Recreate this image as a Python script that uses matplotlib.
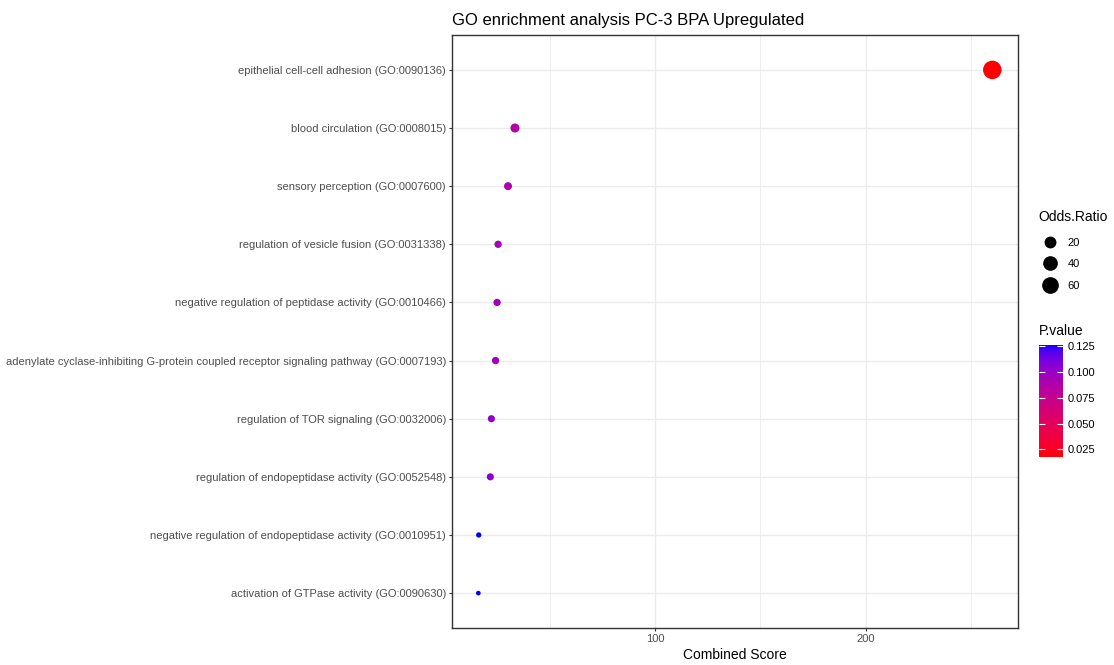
import numpy as np
import matplotlib
matplotlib.use("Agg")
import matplotlib.pyplot as plt
from matplotlib.colors import ListedColormap, Normalize
from matplotlib.cm import ScalarMappable
from matplotlib.lines import Line2D
from matplotlib.ticker import FixedLocator

plt.rcParams['font.family'] = ['Liberation Sans', 'DejaVu Sans']

# datos (de arriba hacia abajo)
terminos = [
    "epithelial cell-cell adhesion (GO:0090136)",
    "blood circulation (GO:0008015)",
    "sensory perception (GO:0007600)",
    "regulation of vesicle fusion (GO:0031338)",
    "negative regulation of peptidase activity (GO:0010466)",
    "adenylate cyclase-inhibiting G-protein coupled receptor signaling pathway (GO:0007193)",
    "regulation of TOR signaling (GO:0032006)",
    "regulation of endopeptidase activity (GO:0052548)",
    "negative regulation of endopeptidase activity (GO:0010951)",
    "activation of GTPase activity (GO:0090630)",
]
combined_score = [260.2, 33.5, 30.2, 25.5, 25.0, 24.3, 22.3, 21.8, 16.3, 16.1]
odds_ratio = [100, 12.5, 8.5, 6.5, 6.5, 6.5, 6.0, 6.0, 3.2, 3.0]
p_value = [0.0177, 0.085, 0.088, 0.095, 0.096, 0.097, 0.103, 0.104, 0.1262, 0.1264]

size_breaks = [20, 40, 60]
p_ticks = [0.025, 0.050, 0.075, 0.100, 0.125]
x_major = [100, 200]
x_minor = [50, 150, 250]

# --- degradado rojo -> azul interpolado en Lab (como ggplot) ---
M = np.array([[0.4124, 0.3576, 0.1805],
              [0.2126, 0.7152, 0.0722],
              [0.0193, 0.1192, 0.9505]])
BLANCO = np.array([0.95047, 1.0, 1.08883])
D = 6 / 29


def rgb_a_lab(c):
    c = np.asarray(c, float)
    lin = np.where(c <= 0.04045, c / 12.92, ((c + 0.055) / 1.055) ** 2.4)
    xyz = M @ lin / BLANCO
    f = np.where(xyz > D ** 3, np.cbrt(xyz), xyz / (3 * D ** 2) + 4 / 29)
    return np.array([116 * f[1] - 16, 500 * (f[0] - f[1]), 200 * (f[1] - f[2])])


def lab_a_rgb(lab):
    L, a, b = lab
    fy = (L + 16) / 116
    f = np.array([fy + a / 500, fy, fy - b / 200])
    xyz = np.where(f > D, f ** 3, 3 * D ** 2 * (f - 4 / 29)) * BLANCO
    lin = np.clip(np.linalg.solve(M, xyz), 0, 1)
    c = np.where(lin <= 0.0031308, 12.92 * lin, 1.055 * lin ** (1 / 2.4) - 0.055)
    return np.clip(c, 0, 1)


lab_rojo = rgb_a_lab([1, 0, 0])
lab_azul = rgb_a_lab([0, 0, 1])
colores = [lab_a_rgb(lab_rojo + t * (lab_azul - lab_rojo)) for t in np.linspace(0, 1, 256)]
cmap = ListedColormap(colores)
norm = Normalize(vmin=min(p_value), vmax=max(p_value))

# --- tamaño por área, como scale_size ---
or_min, or_max = min(odds_ratio), max(odds_ratio)


def diametro_pt(v):
    frac = (np.asarray(v, float) - or_min) / (or_max - or_min)
    px = 4.7 + 13.8 * np.sqrt(np.clip(frac, 0, None))
    return px * 72 / 100


fig = plt.figure(figsize=(11.14, 6.65), dpi=100)
ax = fig.add_axes([452 / 1114, 37 / 665, 566 / 1114, 593 / 665])

y = np.arange(len(terminos))[::-1]
ax.scatter(combined_score, y, s=diametro_pt(odds_ratio) ** 2,
           c=p_value, cmap=cmap, norm=norm, linewidths=0, zorder=3)

ax.set_yticks(y)
ax.set_yticklabels(terminos)
ax.set_ylim(-0.6, len(terminos) - 0.4)
ax.set_xlim(3.6, 272.4)
ax.set_xticks(x_major)
ax.xaxis.set_minor_locator(FixedLocator(x_minor))

ax.set_axisbelow(True)
ax.grid(True, which='major', color='#EBEBEB', linewidth=1.0)
ax.grid(True, which='minor', axis='x', color='#EBEBEB', linewidth=0.6)
ax.tick_params(which='major', length=2.2, width=0.8, color='#333333',
               labelsize=8, labelcolor='#4D4D4D', pad=2.2)
ax.tick_params(which='minor', length=0)
for s in ax.spines.values():
    s.set_color('#333333')
    s.set_linewidth(1.0)

ax.set_xlabel('Combined Score', fontsize=10, labelpad=3)
ax.set_title('GO enrichment analysis PC-3 BPA Upregulated', fontsize=12,
             loc='left', pad=7)

# leyenda de tamaños
fig.text(1038 / 1114, 1 - 217 / 665, 'Odds.Ratio', fontsize=10, va='center')
manijas = [Line2D([], [], linestyle='none', marker='o', color='black',
                  markersize=diametro_pt(v)) for v in size_breaks]
fig.legend(manijas, [str(v) for v in size_breaks],
           loc='upper left', bbox_to_anchor=(1044.5 / 1114, 1 - 237.5 / 665),
           frameon=False, fontsize=8, borderpad=0, borderaxespad=0,
           handlelength=1.0, handletextpad=1.1, labelspacing=1.06)

# barra de color
cax = fig.add_axes([1039 / 1114, (665 - 457) / 665, 24 / 1114, 112 / 665])
cb = fig.colorbar(ScalarMappable(norm=norm, cmap=cmap), cax=cax, ticks=p_ticks)
cb.outline.set_visible(False)
cax.set_yticklabels([f"{t:.3f}" for t in p_ticks])
cax.tick_params(axis='y', direction='in', color='white', length=4, width=0.8,
                left=True, right=True, labelsize=8, pad=3)
cax.set_title('P.value', fontsize=10, loc='left', pad=7)

fig.savefig('out.png', dpi=100)
